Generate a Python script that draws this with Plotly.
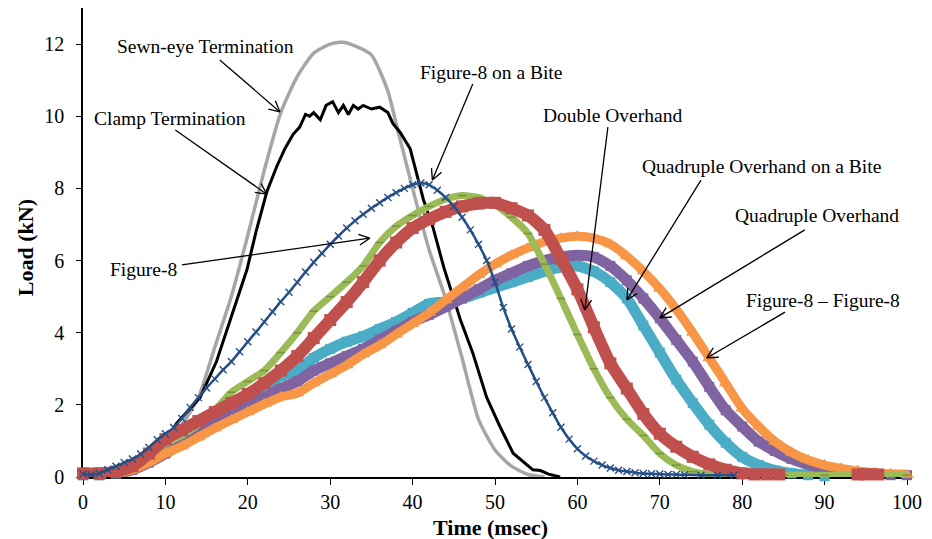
import math
import plotly.graph_objects as go

# ---------------- data ----------------
sewn_t = [0, 2, 4, 6, 8, 10, 12, 14, 16, 18, 20, 22, 24, 26, 28, 30, 31.5, 33, 35, 37, 38, 40, 42, 44, 46, 48, 50, 52, 54, 56]
sewn_y = [0.05, 0.05, 0.1, 0.25, 0.5, 0.9, 1.45, 2.2, 3.6, 5.0, 6.7, 8.5, 10.1, 11.1, 11.75, 12.0, 12.05, 11.95, 11.7, 10.7, 9.8, 8.0, 6.3, 4.95, 3.3, 1.6, 0.75, 0.3, 0.07, 0.0]

clamp_t = [0, 2, 4, 6, 8, 10, 11.4, 12.6, 14.2, 16.2, 18.2, 19.9, 21, 22.3, 23.5, 24.5, 25.5, 26.3, 27, 27.5, 28, 28.8, 29.5,
           30.3, 31, 31.6, 32.2, 32.8, 33.4, 34, 35, 36, 37, 37.6, 38.5, 39.7, 40.5, 41.3, 42.5, 43.8, 45.8, 47.3, 49,
           50.6, 52.2, 54.6, 55.5, 56.5, 57.9]
clamp_y = [0.05, 0.05, 0.1, 0.25, 0.55, 1.0, 1.5, 1.8, 2.2, 3.2, 4.55, 5.75, 6.8, 7.9, 8.6, 9.1, 9.5, 9.7, 10.05, 10.0, 10.1, 9.9, 10.3,
           10.4, 10.1, 10.3, 10.05, 10.3, 10.2, 10.3, 10.2, 10.25, 10.1, 9.8, 9.55, 9.1, 8.4, 7.7, 6.9, 5.8, 4.36, 3.44, 2.2,
           1.4, 0.66, 0.2, 0.18, 0.08, 0.0]

bite_t = list(range(0, 74)) + [75, 77, 79]
bite_y = [0.08, 0.06, 0.1, 0.2, 0.3, 0.4, 0.5, 0.64, 0.82, 1.03, 1.2, 1.37, 1.62, 1.93, 2.2, 2.47, 2.72, 2.97, 3.2, 3.47,
          3.75, 4.02, 4.3, 4.58, 4.86, 5.12, 5.4, 5.68, 5.95, 6.2, 6.45, 6.68, 6.9, 7.1, 7.28, 7.45, 7.6, 7.75, 7.88, 8.0,
          8.1, 8.15, 8.1, 7.95, 7.75, 7.5, 7.2, 6.85, 6.45, 6.0, 5.4, 4.7, 4.1, 3.6, 3.12, 2.65, 2.2, 1.78, 1.38, 1.05,
          0.78, 0.58, 0.44, 0.33, 0.25, 0.19, 0.15, 0.12, 0.1, 0.09, 0.08, 0.07, 0.07, 0.06, 0.05, 0.05, 0.05]

fig8_t = [0, 2, 4, 6, 8, 10, 12, 14, 16, 18, 20, 22, 24, 26, 28, 30, 32, 34, 36, 38, 40, 42, 44, 46, 48, 50, 52, 54, 56,
          58, 60, 62, 64, 66, 68, 70, 72, 74, 76, 80, 85, 90, 95, 100]
fig8_y = [0.05, 0.05, 0.1, 0.25, 0.55, 0.92, 1.15, 1.45, 1.85, 2.35, 2.65, 2.95, 3.45, 4.0, 4.6, 5.0, 5.4, 5.85, 6.5, 6.95,
          7.25, 7.5, 7.7, 7.8, 7.75, 7.55, 7.2, 6.75, 5.9, 4.95, 3.95, 3.0, 2.2, 1.6, 1.15, 0.65, 0.33, 0.15, 0.07, 0.05,
          0.05, 0.05, 0.05, 0.05]

dbl_t = [0, 2, 4, 6, 8, 10, 12, 14, 16, 18, 20, 22, 24, 26, 28, 30, 32, 34, 36, 38, 40, 42, 44, 46, 48, 50, 52, 54, 56,
         58, 60, 62, 64, 66, 68, 70, 72, 74, 76, 78, 80, 81.5, 83, 84.5, None, 94, 95, 96.5]
dbl_y = [0.1, 0.1, 0.15, 0.3, 0.65, 1.05, 1.3, 1.55, 1.8, 2.05, 2.3, 2.6, 2.95, 3.35, 3.85, 4.35, 4.85, 5.4, 6.0, 6.5,
         6.9, 7.15, 7.35, 7.5, 7.58, 7.6, 7.45, 7.25, 6.85, 6.05, 5.2, 4.15, 3.15, 2.45, 1.75, 1.2, 0.84, 0.56, 0.35, 0.2,
         0.1, 0.07, 0.07, 0.07, None, 0.07, 0.07, 0.07]

qbite_t = [0, 2, 4, 6, 8, 10, 12, 14, 16, 18, 20, 22, 24, 26, 28, 30, 32, 34, 36, 38, 40, 42, 44, 46, 48, 50, 52, 54, 56,
           58, 60, 62, 64, 66, 68, 70, 72, 74, 76, 78, 80, 82, 84, 86, 88, 90]
qbite_y = [0.05, 0.05, 0.1, 0.25, 0.5, 0.8, 1.05, 1.3, 1.55, 1.85, 2.2, 2.5, 2.8, 2.95, 3.3, 3.55, 3.75, 3.9, 4.1, 4.3,
           4.55, 4.8, 4.85, 4.95, 5.1, 5.25, 5.4, 5.55, 5.7, 5.82, 5.85, 5.7, 5.4, 4.95, 4.2, 3.45, 2.7, 2.05, 1.45, 0.95,
           0.56, 0.33, 0.18, 0.1, 0.05, 0.02]

quad_t = [0, 2, 4, 6, 8, 10, 12, 14, 16, 18, 20, 22, 24, 26, 28, 30, 32, 34, 36, 38, 40, 42, 44, 46, 48, 50, 52, 54, 56,
          58, 60, 62, 64, 66, 68, 70, 72, 74, 76, 78, 80, 82, 84, 86, 88, 90, 92, 94, 96, 98, 100]
quad_y = [0.05, 0.05, 0.1, 0.2, 0.4, 0.65, 0.95, 1.2, 1.5, 1.78, 2.0, 2.2, 2.45, 2.65, 2.95, 3.15, 3.35, 3.55, 3.8, 4.05,
          4.3, 4.5, 4.72, 4.95, 5.2, 5.45, 5.65, 5.85, 6.0, 6.1, 6.15, 6.1, 5.85, 5.45, 4.95, 4.4, 3.8, 3.2, 2.5, 1.85,
          1.4, 0.98, 0.72, 0.5, 0.35, 0.24, 0.15, 0.1, 0.07, 0.05, 0.05]

f88_t = [0, 2, 4, 6, 8, 10, 12, 14, 16, 18, 20, 22, 24, 26, 28, 30, 32, 34, 36, 38, 40, 42, 44, 46, 48, 50, 52, 54, 56,
         58, 60, 62, 64, 66, 68, 70, 72, 74, 76, 78, 80, 82, 84, 86, 88, 90, 92, 94, 96, 98, 100]
f88_y = [0.05, 0.05, 0.1, 0.2, 0.4, 0.65, 0.85, 1.1, 1.35, 1.58, 1.8, 2.02, 2.22, 2.32, 2.6, 2.85, 3.1, 3.4, 3.65, 3.95,
         4.25, 4.55, 4.9, 5.25, 5.6, 5.9, 6.15, 6.35, 6.52, 6.62, 6.67, 6.62, 6.45, 6.12, 5.7, 5.22, 4.65, 4.0, 3.3, 2.6,
         1.9, 1.4, 0.98, 0.68, 0.47, 0.33, 0.24, 0.17, 0.12, 0.08, 0.06]

x_ticks = [0, 10, 20, 30, 40, 50, 60, 70, 80, 90, 100]
y_ticks = [0, 2, 4, 6, 8, 10, 12]

# labels: (text, text_x, text_y, tail_x, tail_y, head_x, head_y)
labels = [
    ("Sewn-eye Termination", 14.9, 11.92, 16.6, 11.56, 23.9, 10.12),
    ("Clamp Termination", 10.6, 9.95, 11.2, 9.62, 22.3, 7.84),
    ("Figure-8 on a Bite", 49.5, 11.2, 47.3, 10.89, 42.4, 8.23),
    ("Double Overhand", 64.2, 10.03, 63.7, 9.70, 60.9, 4.63),
    ("Quadruple Overhand on a Bite", 82.3, 8.62, 75.0, 8.23, 66.0, 4.91),
    ("Quadruple Overhand", 89.1, 7.26, 87.6, 6.85, 70.0, 4.41),
    ("Figure-8 \u2013 Figure-8", 89.8, 4.9, 85.2, 4.57, 75.7, 3.30),
    ("Figure-8", 7.3, 5.74, 12.0, 5.88, 34.8, 6.62),
]

FONT = "Liberation Serif, Times New Roman, serif"

# layout geometry
W, H = 932, 539
ML, MR, MT, MB = 83, 25, 8, 62
XR = [0, 100]
YR = [0, 13]
sx = (W - ML - MR) / (XR[1] - XR[0])
sy = (H - MT - MB) / (YR[1] - YR[0])

fig = go.Figure()

fig.add_trace(go.Scatter(x=sewn_t, y=sewn_y, mode="lines", name="Sewn-eye Termination",
                         line=dict(color="#A6A6A6", width=3.5, shape="spline", smoothing=0.6)))
fig.add_trace(go.Scatter(x=clamp_t, y=clamp_y, mode="lines", name="Clamp Termination",
                         line=dict(color="#000000", width=3)))
fig.add_trace(go.Scatter(x=qbite_t, y=qbite_y, mode="lines+markers", name="Quadruple Overhand on a Bite",
                         line=dict(color="#4BACC6", width=11, shape="spline", smoothing=0.6),
                         marker=dict(symbol="square", size=10, color="#4BACC6"), cliponaxis=False))
fig.add_trace(go.Scatter(x=quad_t, y=quad_y, mode="lines+markers", name="Quadruple Overhand",
                         line=dict(color="#8064A2", width=11, shape="spline", smoothing=0.6),
                         marker=dict(symbol="square", size=10, color="#8064A2"), cliponaxis=False))
fig.add_trace(go.Scatter(x=f88_t, y=f88_y, mode="lines+markers", name="Figure-8 \u2013 Figure-8",
                         line=dict(color="#F79646", width=9, shape="spline", smoothing=0.6),
                         marker=dict(symbol="triangle-up", size=12, color="#F79646"), cliponaxis=False))
fig.add_trace(go.Scatter(x=fig8_t, y=fig8_y, mode="lines+markers", name="Figure-8",
                         line=dict(color="#9BBB59", width=7, shape="spline", smoothing=0.6),
                         marker=dict(symbol="line-ew", size=6, color="#77933C",
                                     line=dict(color="#77933C", width=1.5)), cliponaxis=False))
fig.add_trace(go.Scatter(x=dbl_t, y=dbl_y, mode="lines+markers", name="Double Overhand",
                         line=dict(color="#C0504D", width=12, shape="spline", smoothing=0.6),
                         marker=dict(symbol="square", size=12, color="#C0504D"), cliponaxis=False,
                         connectgaps=False))
fig.add_trace(go.Scatter(x=bite_t, y=bite_y, mode="lines+markers", name="Figure-8 on a Bite",
                         line=dict(color="#264F86", width=2.5, shape="spline", smoothing=0.6),
                         marker=dict(symbol="x-thin", size=7, color="#264F86",
                                     line=dict(color="#264F86", width=1.4)), cliponaxis=False))

ARM = 12.0           # arrowhead arm length in px
ANG = math.radians(27)
for text, tx, ty, ax_, ay_, hx, hy in labels:
    fig.add_annotation(x=tx, y=ty, xref="x", yref="y", text=text, showarrow=False,
                       xanchor="center", yanchor="middle", font=dict(family=FONT, size=19.5, color="#000000"))
    # shaft
    fig.add_shape(type="line", xref="x", yref="y", x0=ax_, y0=ay_, x1=hx, y1=hy,
                  line=dict(color="#000000", width=1.3))
    # open arrowhead: two arms, computed in pixel space
    dxp = (hx - ax_) * sx
    dyp = -(hy - ay_) * sy
    L = math.hypot(dxp, dyp)
    ux, uy = dxp / L, dyp / L
    for s in (1, -1):
        c, si = math.cos(s * ANG), math.sin(s * ANG)
        bx = -(ux * c - uy * si) * ARM
        by = -(ux * si + uy * c) * ARM
        fig.add_shape(type="line", xref="x", yref="y", x0=hx, y0=hy,
                      x1=hx + bx / sx, y1=hy - by / sy,
                      line=dict(color="#000000", width=1.3))

fig.add_annotation(x=0.494, y=-0.107, xref="paper", yref="paper", text="<b>Time (msec)</b>", showarrow=False,
                   xanchor="center", yanchor="middle", font=dict(family=FONT, size=22, color="#000000"))
fig.add_annotation(x=-0.0704, y=0.49, xref="paper", yref="paper", text="<b>Load (kN)</b>", showarrow=False,
                   textangle=-90, xanchor="center", yanchor="middle", font=dict(family=FONT, size=22, color="#000000"))

fig.update_layout(
    width=W, height=H,
    margin=dict(l=ML, r=MR, t=MT, b=MB),
    paper_bgcolor="white", plot_bgcolor="white",
    showlegend=False,
    font=dict(family=FONT, size=20, color="#000000"),
)
fig.update_xaxes(range=XR, tickvals=x_ticks, ticktext=[str(v) for v in x_ticks],
                 showgrid=False, zeroline=False, showline=True, linecolor="#000000", linewidth=1.5,
                 ticks="outside", ticklen=6, tickwidth=1.2, tickcolor="#000000", layer="below traces",
                 tickfont=dict(family=FONT, size=20, color="#000000"))
fig.update_yaxes(range=YR, tickvals=y_ticks, ticktext=[str(v) for v in y_ticks],
                 showgrid=False, zeroline=False, showline=True, linecolor="#000000", linewidth=1.5,
                 ticks="outside", ticklen=5, tickwidth=1.2, tickcolor="#000000", layer="below traces",
                 ticklabelstandoff=8, tickfont=dict(family=FONT, size=20, color="#000000"))

fig.write_html("out.html")
